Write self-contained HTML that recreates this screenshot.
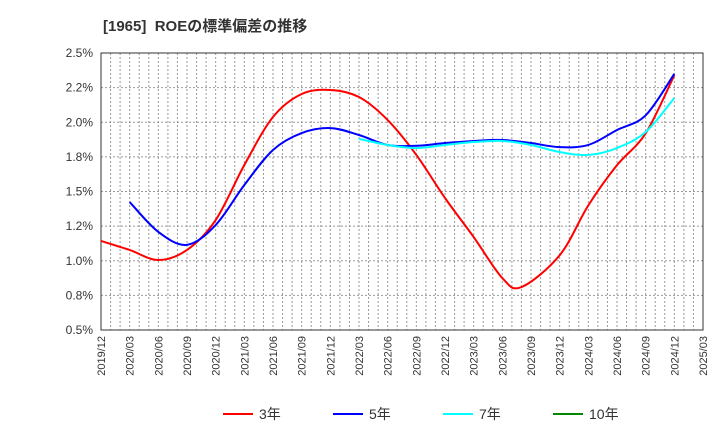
<!DOCTYPE html>
<html><head><meta charset="utf-8"><style>
body{margin:0;background:#fff;font-family:"Liberation Sans","Noto Sans CJK JP",sans-serif}
</style></head><body>
<svg width="720" height="440" xmlns="http://www.w3.org/2000/svg">
<text x="103" y="31" font-size="15" font-weight="bold" fill="#333" xml:space="preserve">[1965]  ROEの標準偏差の推移</text>
<g id="grid"></g>
<g id="axes"></g>
<g id="series"></g>
<g id="legend"></g>
</svg>
<script>
const xTicks=["2019/12","2020/03","2020/06","2020/09","2020/12","2021/03","2021/06","2021/09","2021/12","2022/03","2022/06","2022/09","2022/12","2023/03","2023/06","2023/09","2023/12","2024/03","2024/06","2024/09","2024/12","2025/03"];
const yTicks=[0.5,0.75,1.0,1.25,1.5,1.75,2.0,2.25,2.5];
const yLabels=["0.5%","0.8%","1.0%","1.2%","1.5%","1.8%","2.0%","2.2%","2.5%"];
// month index from 2019/12
const s3Months=[0,3,6,9,12,15,18,21,24,27,30,33,36,39,42,44,48,51,54,57,60];
const s3Values=[1.143,1.078,1.005,1.078,1.294,1.691,2.038,2.204,2.233,2.182,2.016,1.764,1.453,1.171,0.875,0.81,1.04,1.40,1.69,1.92,2.34];
const s5Months=[3,6,9,12,15,18,21,24,27,30,33,36,39,42,45,48,51,54,57,60];
const s5Values=[1.424,1.208,1.115,1.258,1.547,1.80,1.922,1.958,1.908,1.836,1.83,1.85,1.865,1.872,1.85,1.82,1.836,1.944,2.05,2.35];
const s7Months=[27,30,33,36,39,42,45,48,51,54,57,60];
const s7Values=[1.88,1.836,1.814,1.836,1.857,1.865,1.836,1.785,1.764,1.814,1.93,2.175];
const L=101,R=703,T=53,B=330;
const X=m=>L+(R-L)*m/63;
const Y=v=>B-(v-0.5)/2.0*(B-T);
const NS="http://www.w3.org/2000/svg";
function mk(t,a,p){const e=document.createElementNS(NS,t);for(const k in a)e.setAttribute(k,a[k]);p.appendChild(e);return e;}
const grid=document.getElementById('grid'),axes=document.getElementById('axes'),ser=document.getElementById('series'),leg=document.getElementById('legend');
for(let m=1;m<63;m++){const l=mk('line',{x1:X(m),x2:X(m),y1:T,y2:B,stroke:'#999','stroke-dasharray':'2,2','stroke-width':1},grid);}
yTicks.forEach((v,i)=>{const l=mk('line',{x1:L,x2:R,y1:Y(v),y2:Y(v),stroke:'#999','stroke-dasharray':'2,2'},grid);
const t=mk('text',{x:L-8,y:Y(v)+4,'text-anchor':'end','font-size':12,fill:'#333'},axes);t.textContent=yLabels[i];});
const bx=mk('rect',{x:L,y:T,width:R-L,height:B-T,fill:'none',stroke:'#333'},axes);
xTicks.forEach((s,i)=>{const x=X(i*3);const t=mk('text',{x:x+4,y:B+6,'text-anchor':'end','font-size':11,fill:'#333',transform:`rotate(-90 ${x+4} ${B+6})`},axes);t.textContent=s;});
function path(ms,vs){const p=ms.map((m,i)=>[X(m),Y(vs[i])]);let d=`M${p[0][0]},${p[0][1]}`;for(let i=0;i<p.length-1;i++){const p0=p[i-1]||p[i],p1=p[i],p2=p[i+1],p3=p[i+2]||p2;const c1=[p1[0]+(p2[0]-p0[0])/6,p1[1]+(p2[1]-p0[1])/6],c2=[p2[0]-(p3[0]-p1[0])/6,p2[1]-(p3[1]-p1[1])/6];d+=`C${c1[0]},${c1[1]} ${c2[0]},${c2[1]} ${p2[0]},${p2[1]}`;}return d;}
[[s3Months,s3Values,'#f00','series-3y'],[s5Months,s5Values,'#00f','series-5y'],[s7Months,s7Values,'#0ff','series-7y']].forEach(([m,v,c,n])=>{const e=mk('path',{d:path(m,v),fill:'none',stroke:c,'stroke-width':2},ser);});
[['3年','#f00',223],['5年','#00f',333],['7年','#0ff',443],['10年','#080',553]].forEach(([t,c,x])=>{const l=mk('line',{x1:x,x2:x+30,y1:414,y2:414,stroke:c,'stroke-width':2},leg);const tx=mk('text',{x:x+36,y:419,'font-size':14,fill:'#333'},leg);tx.textContent=t;});
</script>
</body></html>
